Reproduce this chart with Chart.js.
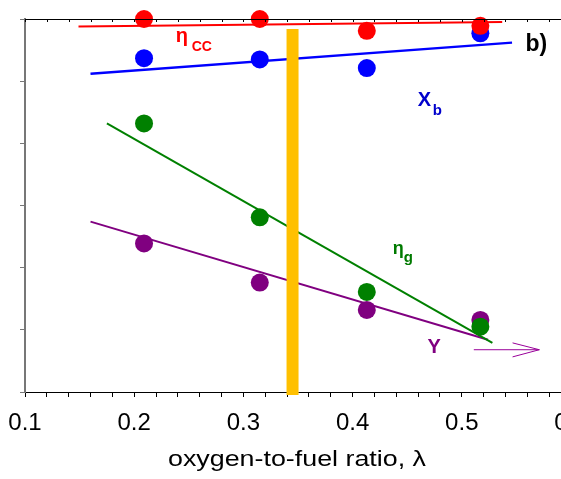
<!DOCTYPE html>
<html>
<head>
<meta charset="utf-8">
<script src="https://cdn.jsdelivr.net/npm/chart.js@4"></script>
<style>
    html, body { margin: 0; padding: 0; overflow: hidden; background: #fff; }
    #wrap { width: 600px; height: 479px; }
</style>
</head>
<body>
<div id="wrap"><canvas id="chart" width="600" height="479"></canvas></div>
<script>
// measured points (x = oxygen-to-fuel ratio)
const lambda = [0.209, 0.315, 0.413, 0.517];
const etaCC = [6.0, 6.0, 5.81, 5.89];
const xB = [5.37, 5.35, 5.21, 5.77];
const etaG = [4.32, 2.81, 1.61, 1.05];
const yieldY = [2.39, 1.76, 1.32, 1.16];

// fitted trend lines (end points)
const etaCCFitX = [0.149, 0.537], etaCCFitY = [5.88, 5.95];
const xBFitX = [0.160, 0.546], xBFitY = [5.12, 5.62];
const etaGFitX = [0.175, 0.528], etaGFitY = [4.32, 0.79];
const yFitX = [0.160, 0.524], yFitY = [2.74, 0.84];

// optimum marker and arrow
const optX = [0.345, 0.345], optY = [-0.05, 5.84];
const arrowX = [0.511, 0.571], arrowY = [0.68, 0.68];
const headX = [0.5465, 0.571, 0.5465], headY = [0.79, 0.68, 0.565];

const xTicks = [0.1, 0.2, 0.3, 0.4, 0.5, 0.6];
const xTitle = 'oxygen-to-fuel ratio, λ';

const FONT = "'Liberation Sans', Arial, sans-serif";

function pts(xs, ys) {
    return xs.map((x, i) => ({ x: x, y: ys[i] }));
}

function dots(data, color) {
    return { data: data, showLine: false, pointRadius: 9, pointHoverRadius: 9,
        pointBorderWidth: 0, backgroundColor: color, borderColor: color, order: 0, clip: false };
}

function fit(data, color, w) {
    return { data: data, showLine: true, pointRadius: 0, borderColor: color,
        borderWidth: w || 2, order: 2, clip: false };
}

// labels drawn in data coordinates
const labels = [
    { x: 0.238, y: 5.63, main: 'η', sub: 'CC', color: '#ff0000', mf: 'bold 20px ', sf: 'bold 14px ', dx: 16, dy: 9 },
    { x: 0.4596, y: 4.6, main: 'X', sub: 'b', color: '#0000cc', mf: 'bold 20px ', sf: 'bold 15px ', dx: 15, dy: 9 },
    { x: 0.4367, y: 2.22, main: 'η', sub: 'g', color: '#007a00', mf: 'bold 18px ', sf: 'bold 15px ', dx: 11, dy: 8 },
    { x: 0.4687, y: 0.63, main: 'Y', sub: '', color: '#800080', mf: 'bold 20px ', sf: '', dx: 0, dy: 0 },
    { x: 0.5584, y: 5.48, main: 'b)', sub: '', color: '#000000', mf: 'bold 23px ', sf: '', dx: 0, dy: 0 }
];

const extras = {
    id: 'extras',
    afterDraw(chart) {
        const { ctx, chartArea, scales } = chart;
        const xs = scales.x, ys = scales.y;
        ctx.save();
        // top frame line with inward ticks
        ctx.strokeStyle = '#000';
        ctx.lineWidth = 1;
        ctx.beginPath();
        ctx.moveTo(chartArea.left, chartArea.top + 0.5);
        ctx.lineTo(chartArea.right, chartArea.top + 0.5);
        for (let k = 0; k <= 25; k++) {
            const px = Math.round(xs.getPixelForValue(0.1 + k * 0.02)) + 0.5;
            ctx.moveTo(px, chartArea.top);
            ctx.lineTo(px, chartArea.top + 3);
        }
        ctx.stroke();
        // text labels
        ctx.textBaseline = 'alphabetic';
        ctx.textAlign = 'left';
        labels.forEach(l => {
            const px = xs.getPixelForValue(l.x), py = ys.getPixelForValue(l.y);
            ctx.fillStyle = l.color;
            ctx.font = l.mf + FONT;
            ctx.fillText(l.main, px, py);
            if (l.sub) {
                ctx.font = l.sf + FONT;
                ctx.fillText(l.sub, px + l.dx, py + l.dy);
            }
        });
        // axis title, slightly widened like the original
        ctx.fillStyle = '#000';
        ctx.font = '22px ' + FONT;
        ctx.textAlign = 'center';
        ctx.translate((chartArea.left + chartArea.right) / 2 - 1, 466);
        ctx.scale(1.22, 1);
        ctx.fillText(xTitle, 0, 0);
        ctx.restore();
    }
};

new Chart(document.getElementById('chart'), {
    type: 'scatter',
    data: {
        datasets: [
            dots(pts(lambda, etaCC), '#ff0000'),
            dots(pts(lambda, etaG), '#008000'),
            dots(pts(lambda, xB), '#0000ff'),
            dots(pts(lambda, yieldY), '#800080'),
            { data: pts(optX, optY), showLine: true, pointRadius: 0, borderColor: '#ffc000',
              borderWidth: 12, borderCapStyle: 'butt', order: 1, clip: false },
            fit(pts(etaCCFitX, etaCCFitY), '#ff0000', 2),
            fit(pts(xBFitX, xBFitY), '#0000ff', 2.5),
            fit(pts(etaGFitX, etaGFitY), '#008000', 2),
            fit(pts(yFitX, yFitY), '#800080', 2),
            fit(pts(arrowX, arrowY), '#990099', 1),
            fit(pts(headX, headY), '#990099', 1)
        ]
    },
    options: {
        responsive: false,
        animation: false,
        events: [],
        layout: { padding: { left: 0, right: 29, top: 19, bottom: 0 } },
        plugins: { legend: { display: false }, tooltip: { enabled: false } },
        scales: {
            x: {
                type: 'linear',
                min: 0.1,
                max: 0.6,
                border: { color: '#000', width: 1 },
                grid: { drawOnChartArea: false, drawTicks: true, tickLength: 5, color: '#000', tickColor: '#000' },
                ticks: {
                    stepSize: 0.02,
                    autoSkip: false,
                    maxRotation: 0,
                    padding: 12,
                    color: '#000',
                    font: { family: FONT, size: 24 },
                    callback: v => {
                        const r = Math.round(v * 10);
                        if (Math.abs(v * 10 - r) > 1e-6) return '';
                        return xTicks.includes(r / 10) ? (r / 10).toFixed(1) : '';
                    }
                },
                afterFit: s => { s.height = 87; s.paddingLeft = 0; s.paddingRight = 0; }
            },
            y: {
                type: 'linear',
                min: 0,
                max: 6,
                border: { color: '#777', width: 2 },
                grid: { drawOnChartArea: false, drawTicks: true, tickLength: 5, tickColor: '#777' },
                ticks: { stepSize: 1, display: false },
                afterFit: s => { s.width = 25; }
            }
        }
    },
    plugins: [extras]
});
</script>
</body>
</html>
